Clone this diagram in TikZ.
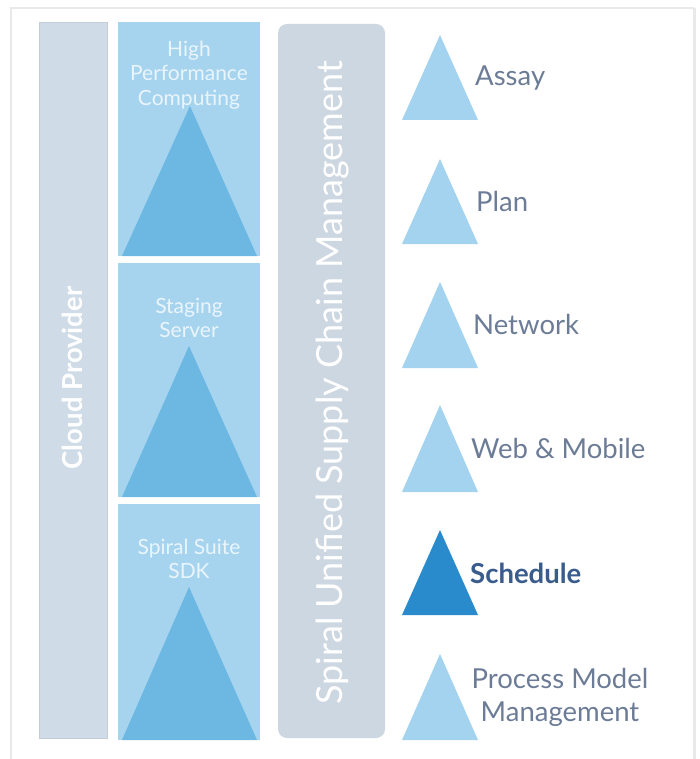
\documentclass[tikz,border=0pt]{standalone}
\usepackage{fontspec}
\setmainfont{Lato}
\definecolor{framegray}{HTML}{E9E9E9}
\definecolor{cloudbar}{HTML}{CFDCE7}
\definecolor{cloudedge}{HTML}{C4CCD4}
\definecolor{colbox}{HTML}{A6D4EF}
\definecolor{coltri}{HTML}{6CB8E3}
\definecolor{spiralbar}{HTML}{CDD7E1}
\definecolor{lighttri}{HTML}{A3D3EE}
\definecolor{darktri}{HTML}{2A8BCC}
\definecolor{labelgray}{HTML}{6C7C97}
\definecolor{labeldark}{HTML}{3A5C8C}
\definecolor{whitetext}{HTML}{EAF5FB}
\tikzset{
  coltext/.style={text=whitetext, font=\fontsize{21}{24.5}\selectfont, align=center, inner sep=0pt},
  sidetext/.style={text=labelgray, font=\fontsize{27.5}{33}\selectfont, align=center, inner sep=0pt},
  bartext/.style={text=white, inner sep=0pt, rotate=90},
}
\begin{document}
\begin{tikzpicture}[x=1pt,y=-1pt]
\useasboundingbox (0,0) rectangle (699,759);
\fill[white] (0,0) rectangle (699,759);
% frame
\draw[framegray, line width=1.5pt] (11,759) -- (11,8) -- (694,8);
\draw[framegray, line width=3pt] (694,8) -- (694,759);
% cloud provider bar
\node[draw=cloudedge, line width=0.8pt, fill=cloudbar, minimum width=68pt, minimum height=716pt, inner sep=0pt] (cloud) at (73,380) {};
\node[bartext, font=\fontsize{27.5}{27.5}\selectfont\bfseries] (cloudtxt) at (72,378) {Cloud Provider};
% column boxes
\fill[colbox] (118,22) rectangle (260,256);
\fill[colbox] (118,263) rectangle (260,497);
\fill[colbox] (118,504) rectangle (260,740);
\fill[coltri] (190,106) -- (257,256) -- (122,256) -- cycle;
\fill[coltri] (189,346) -- (257,497) -- (122,497) -- cycle;
\fill[coltri] (189,587) -- (257,740) -- (122,740) -- cycle;
\node[coltext] (hpc) at (189,75) {High\\Performance\\Computing};
\node[coltext] (stage) at (189,318) {Staging\\Server};
\node[coltext] (sdk) at (189,559) {Spiral Suite\\SDK};
% spiral bar
\node[fill=spiralbar, rounded corners=9pt, minimum width=107pt, minimum height=714pt, inner sep=0pt] (spiral) at (331.5,381) {};
\node[bartext, font=\fontsize{36}{36}\selectfont] (spiraltxt) at (333,383) {Spiral Unified Supply Chain Management};
% right triangles and labels
\fill[lighttri] (440,35) -- (478,120) -- (402,120) -- cycle;
\node[sidetext, anchor=west] (assay) at (475,78) {Assay};
\fill[lighttri] (440,159) -- (478,244) -- (402,244) -- cycle;
\node[sidetext, anchor=west] (plan) at (476,201) {Plan};
\fill[lighttri] (440,282) -- (478,368) -- (402,368) -- cycle;
\node[sidetext, anchor=west] (network) at (473,324) {Network};
\fill[lighttri] (440,405) -- (478,492) -- (402,492) -- cycle;
\node[sidetext, anchor=west] (web) at (471,448) {Web \& Mobile};
\fill[darktri] (440,530) -- (478,615) -- (402,615) -- cycle;
\node[sidetext, anchor=west, text=labeldark, font=\fontsize{27.5}{33}\selectfont\bfseries] (sched) at (470,573) {Schedule};
\fill[lighttri] (440,654) -- (478,740) -- (402,740) -- cycle;
\node[sidetext] (pmm) at (560,697) {Process Model\\Management};
\end{tikzpicture}
\end{document}
